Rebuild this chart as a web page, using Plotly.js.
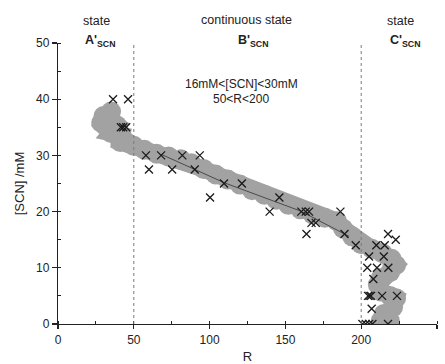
<!DOCTYPE html>
<html>
<head>
<meta charset="utf-8">
<script src="https://cdn.plot.ly/plotly-3.0.1.min.js"></script>
<style>
  html, body { margin: 0; padding: 0; background: #ffffff; }
  #chart { width: 445px; height: 364px; }
</style>
</head>
<body>
<div id="chart"></div>
<script>
// Measured points (crosses): R and [SCN] (mM)
var measR = [36.3, 46.2, 41.5, 43, 45,
  58, 60, 68, 75.3, 82, 90.2, 93.5, 100.3, 109.5, 121.3, 139.6, 146, 160.5, 163.4, 165.6, 163.9, 167.2, 170, 186.3, 189, 196.4,
  205.2, 210, 215.5, 217.7, 222.8, 214.9, 204, 210.4, 217.9, 208, 204.5, 205.5, 206.5, 213.8, 223.6, 206.9, 200.8, 203, 205.2, 207.4, 217.7];
var measSCN = [40, 40, 35, 35, 35,
  30, 27.5, 30, 27.5, 30, 27.5, 30, 22.5, 25, 25, 20, 22.5, 20, 20, 20, 16, 18, 18, 20, 16, 14,
  12, 14, 14, 16, 15, 12, 10, 10, 10, 8, 5, 5, 5, 5, 5, 2.7, 0, 0, 0, 0, 0];

// Grey band (trend region)
var bandR = [35, 30, 28.5, 31, 36, 39, 35, 42, 41, 46, 50, 57, 65, 73, 81, 88, 96, 104, 112, 120, 128, 136, 144, 152, 160, 168, 176, 184, 188, 194, 200, 207, 214, 220, 223, 219, 213, 211, 213, 219, 223, 221, 215, 213, 219];
var bandSCN = [37.8, 37, 35.8, 35.3, 35.8, 35.3, 34, 33.6, 32.4, 32.2, 31.7, 31, 30.3, 29.8, 29.3, 28.6, 27.6, 26.6, 25.7, 24.8, 23.8, 23, 22.1, 21.2, 20.4, 19.5, 18.9, 18.3, 17, 15.6, 14.2, 13.4, 12.6, 11.6, 10.5, 9.2, 8.2, 7, 5.8, 5, 4.6, 3, 1.8, 0.6, 0.5];

// Fitted line
var fitR = [68, 110, 160, 192];
var fitSCN = [30.2, 25.1, 20.1, 15.6];

// State boundaries on R
var stateBounds = [50, 200];

// Axis ticks
var xTicks = [0, 50, 100, 150, 200, 250];
var yTicks = [0, 10, 20, 30, 40, 50];

var FONT = 'Liberation Sans, Arial, sans-serif';
var bandColor = '#a2a2a2';

var traces = [
  {
    x: bandR, y: bandSCN, type: 'scatter', mode: 'lines+markers',
    line: { color: bandColor, width: 17 },
    marker: { color: bandColor, size: 20, symbol: 'circle', line: { width: 0 } },
    hoverinfo: 'skip', showlegend: false
  },
  {
    x: fitR, y: fitSCN, type: 'scatter', mode: 'lines',
    line: { color: '#4a4a4a', width: 1 },
    showlegend: false
  },
  {
    x: measR, y: measSCN, type: 'scatter', mode: 'markers',
    marker: { symbol: 'x-thin', size: 8, color: '#1a1a1a', line: { color: '#1a1a1a', width: 1.3 } },
    showlegend: false
  }
];

var shapes = stateBounds.map(function (b) {
  return {
    type: 'line', xref: 'x', yref: 'y', x0: b, x1: b, y0: 0, y1: 50,
    line: { color: '#7a7a7a', width: 1, dash: 'dot' }, layer: 'above'
  };
});

function ann(text, px, py, size) {
  return {
    text: text, xref: 'paper', yref: 'paper',
    x: (px - 58.3) / 379, y: (324.3 - py) / 281.6,
    xanchor: 'center', yanchor: 'middle', showarrow: false,
    font: { family: FONT, size: size || 12, color: '#222' }
  };
}

var annotations = [
  ann('state', 96.7, 20.7, 12.5),
  ann("<b>A'</b><b><sub>SCN</sub></b>", 100, 41, 12.5),
  ann('continuous state', 246.7, 20, 12.5),
  ann("<b>B'</b><b><sub>SCN</sub></b>", 253, 41, 12.5),
  ann('state', 401, 21, 12.5),
  ann("<b>C'</b><b><sub>SCN</sub></b>", 405, 41, 12.5),
  ann('16mM&lt;[SCN]&lt;30mM', 241.7, 84),
  ann('50&lt;R&lt;200', 241, 99.3)
];

var axisCommon = {
  showgrid: false, zeroline: false, showline: true,
  linecolor: '#222', linewidth: 1.2,
  ticks: 'outside', tickcolor: '#222', tickwidth: 1.2,
  tickfont: { family: FONT, size: 12, color: '#222' },
  fixedrange: true
};

var layout = {
  width: 445, height: 364,
  margin: { l: 58.3, r: 7.7, t: 42.7, b: 39.7, pad: 0 },
  paper_bgcolor: '#ffffff', plot_bgcolor: '#ffffff',
  showlegend: false,
  xaxis: Object.assign({}, axisCommon, {
    range: [0, 250], tickvals: xTicks, ticklen: 4,
    minor: { ticks: 'inside', dtick: 25, tick0: 0, ticklen: 3, tickcolor: '#222', tickwidth: 1 },
    title: { text: 'R', font: { family: FONT, size: 13, color: '#222' }, standoff: 6 }
  }),
  yaxis: Object.assign({}, axisCommon, {
    range: [0, 50], tickvals: yTicks, ticklen: 5,
    minor: { ticks: 'inside', dtick: 5, tick0: 0, ticklen: 3, tickcolor: '#222', tickwidth: 1 },
    title: { text: '[SCN] /mM', font: { family: FONT, size: 13, color: '#222' }, standoff: 8 }
  }),
  shapes: shapes,
  annotations: annotations
};

Plotly.newPlot('chart', traces, layout, { displayModeBar: false, staticPlot: true });
</script>
</body>
</html>
